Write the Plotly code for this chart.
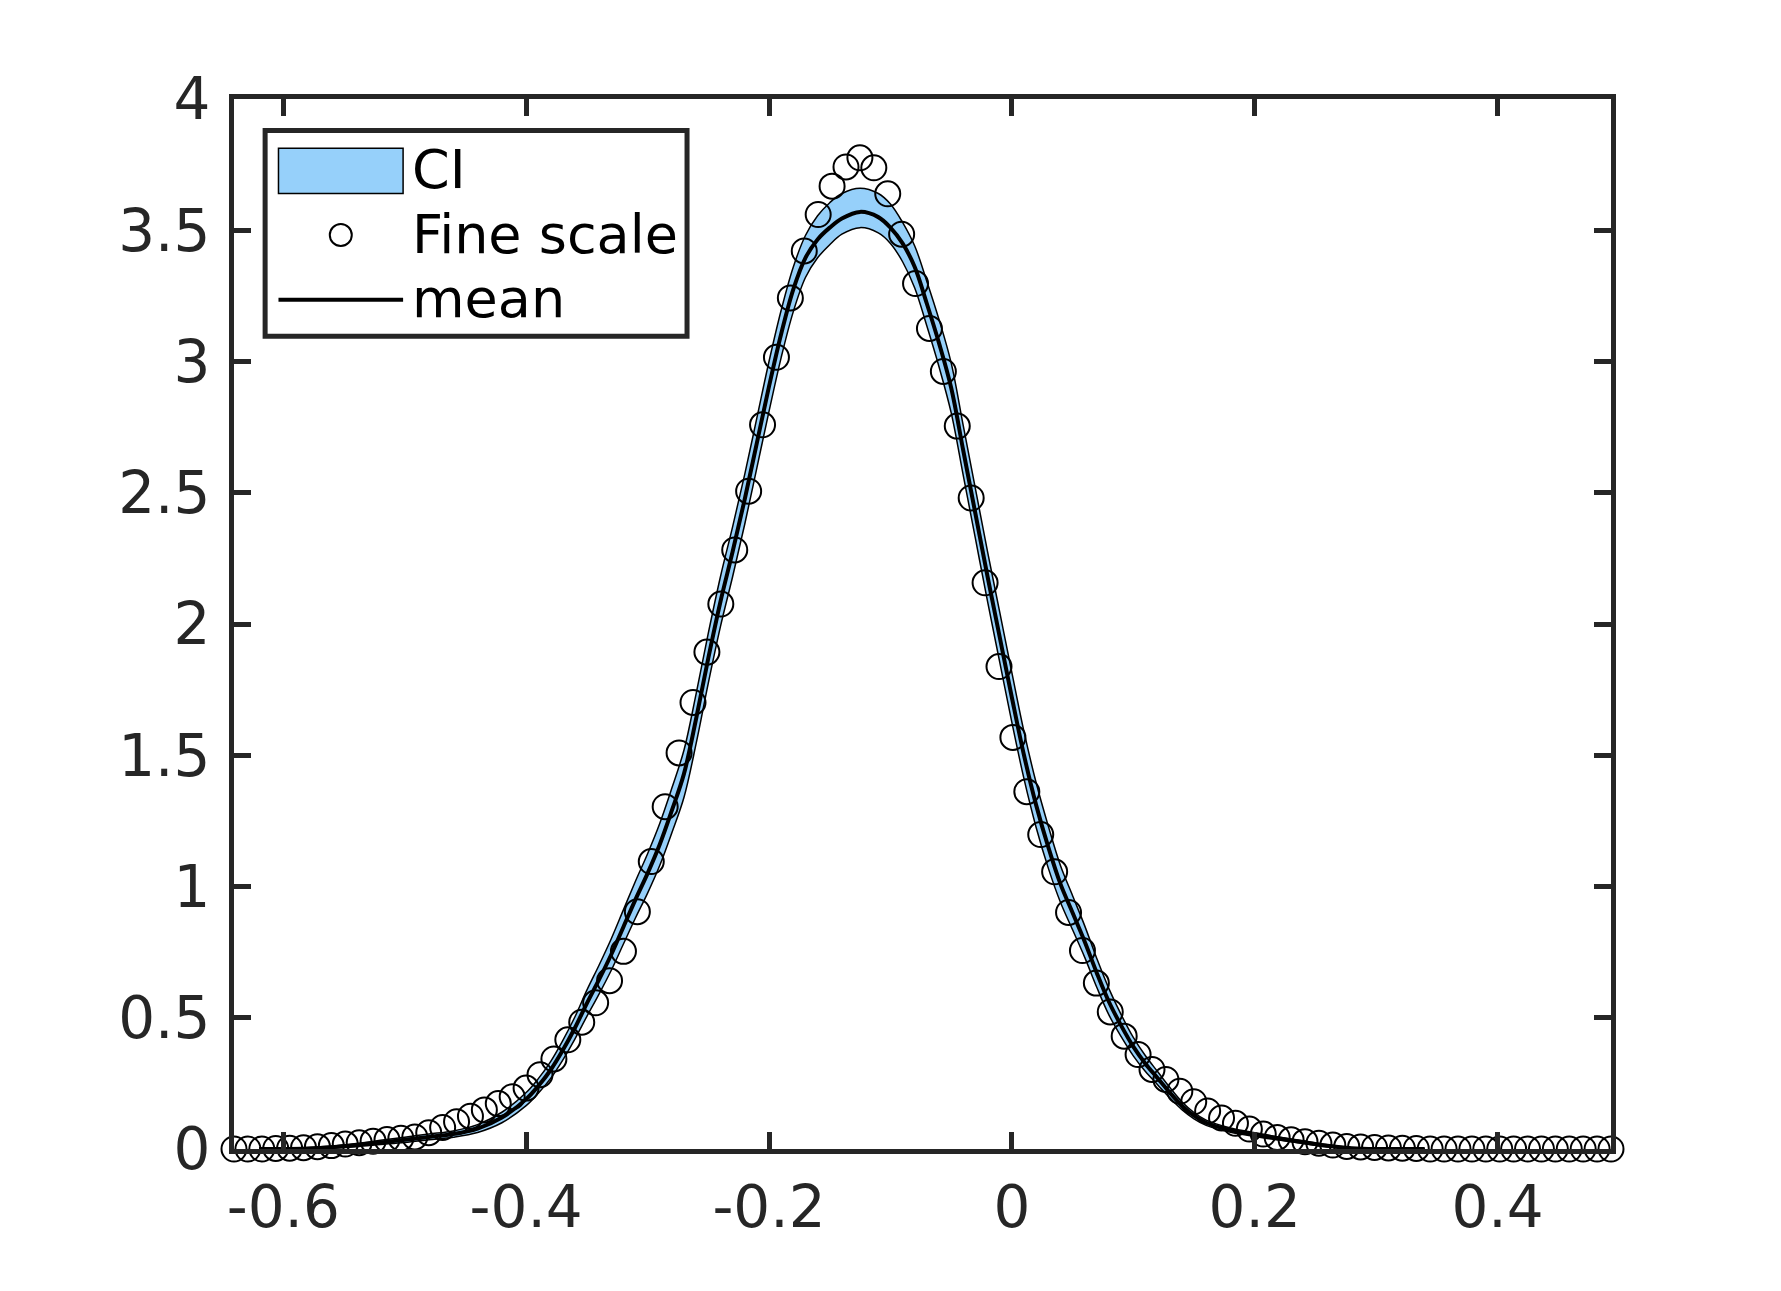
import numpy as np
import plotly.graph_objects as go

# ── data ───────────────────────────────────────────────────────────────────
# fine-scale samples: 100 evenly spaced points across the whole x-range
fine_x_min, fine_x_max, fine_n = -0.6406, 0.4934, 100
fine_y = [
    0.000, 0.000, 0.000, 0.002, 0.003, 0.005, 0.009, 0.013, 0.019, 0.024,
    0.030, 0.036, 0.041, 0.046, 0.062, 0.082, 0.104, 0.125, 0.149, 0.173,
    0.199, 0.232, 0.283, 0.343, 0.416, 0.483, 0.557, 0.641, 0.753, 0.904,
    1.095, 1.304, 1.509, 1.701, 1.893, 2.076, 2.282, 2.506, 2.759, 3.016,
    3.242, 3.421, 3.560, 3.668, 3.741, 3.776, 3.738, 3.639, 3.485, 3.297,
    3.126, 2.962, 2.754, 2.480, 2.157, 1.838, 1.568, 1.361, 1.198, 1.056,
    0.901, 0.756, 0.632, 0.522, 0.430, 0.360, 0.303, 0.265, 0.220, 0.180,
    0.145, 0.118, 0.098, 0.076, 0.057, 0.044, 0.035, 0.028, 0.022, 0.015,
    0.010, 0.008, 0.006, 0.004, 0.003, 0.002, 0.000, 0.000, 0.000, 0.000,
    0.000, 0.000, 0.000, 0.000, 0.000, 0.000, 0.000, 0.000, 0.000, 0.000,
]

# mean curve and its confidence band
mean_x = [
    -0.62, -0.60, -0.58, -0.56, -0.54, -0.52, -0.50, -0.48, -0.46, -0.44,
    -0.42, -0.40, -0.39, -0.38, -0.37, -0.36, -0.35, -0.34, -0.33, -0.32,
    -0.31, -0.30, -0.29, -0.28, -0.27, -0.26, -0.25, -0.24, -0.23, -0.22,
    -0.21, -0.20, -0.19, -0.18, -0.17, -0.16, -0.15, -0.14, -0.125, -0.11,
    -0.10, -0.09, -0.08, -0.07, -0.06, -0.05, -0.04, -0.03, -0.02, -0.01,
    0.00, 0.01, 0.02, 0.03, 0.04, 0.05, 0.06, 0.07, 0.08, 0.09,
    0.10, 0.11, 0.12, 0.13, 0.14, 0.15, 0.16, 0.18, 0.20, 0.22,
    0.24, 0.26, 0.28, 0.30, 0.34,
]
mean_y = [
    0.000, 0.000, 0.002, 0.007, 0.015, 0.025, 0.035, 0.046, 0.057, 0.078,
    0.120, 0.190, 0.240, 0.300, 0.375, 0.460, 0.555, 0.645, 0.740, 0.845,
    0.950, 1.050, 1.160, 1.290, 1.430, 1.640, 1.870, 2.085, 2.275, 2.475,
    2.690, 2.905, 3.105, 3.275, 3.395, 3.465, 3.510, 3.545, 3.570, 3.550,
    3.510, 3.450, 3.360, 3.220, 3.070, 2.900, 2.660, 2.420, 2.180, 1.950,
    1.720, 1.500, 1.310, 1.150, 1.010, 0.900, 0.790, 0.670, 0.560, 0.470,
    0.390, 0.325, 0.270, 0.215, 0.165, 0.127, 0.100, 0.072, 0.055, 0.040,
    0.026, 0.012, 0.003, 0.000, 0.000,
]
ci_lo = [
    0.000, 0.000, 0.000, 0.003, 0.009, 0.017, 0.025, 0.035, 0.045, 0.063,
    0.100, 0.165, 0.212, 0.268, 0.338, 0.418, 0.505, 0.590, 0.680, 0.780,
    0.880, 0.975, 1.080, 1.205, 1.340, 1.545, 1.775, 1.990, 2.180, 2.380,
    2.595, 2.810, 3.015, 3.190, 3.320, 3.395, 3.445, 3.485, 3.510, 3.490,
    3.450, 3.380, 3.280, 3.135, 2.980, 2.805, 2.565, 2.325, 2.085, 1.855,
    1.625, 1.410, 1.225, 1.070, 0.940, 0.835, 0.730, 0.615, 0.510, 0.428,
    0.355, 0.295, 0.245, 0.195, 0.150, 0.115, 0.090, 0.064, 0.048, 0.034,
    0.021, 0.008, 0.001, 0.000, 0.000,
]
ci_hi = [
    0.000, 0.002, 0.005, 0.011, 0.021, 0.033, 0.045, 0.057, 0.069, 0.093,
    0.140, 0.215, 0.268, 0.332, 0.412, 0.502, 0.605, 0.700, 0.800, 0.910,
    1.020, 1.125, 1.240, 1.375, 1.520, 1.735, 1.965, 2.180, 2.370, 2.570,
    2.785, 3.000, 3.195, 3.360, 3.480, 3.555, 3.605, 3.640, 3.660, 3.640,
    3.600, 3.530, 3.440, 3.305, 3.160, 2.995, 2.755, 2.515, 2.275, 2.045,
    1.815, 1.590, 1.395, 1.230, 1.080, 0.965, 0.850, 0.725, 0.610, 0.512,
    0.425, 0.355, 0.295, 0.235, 0.180, 0.139, 0.110, 0.080, 0.062, 0.046,
    0.031, 0.016, 0.005, 0.001, 0.000,
]

x_ticks = [-0.6, -0.4, -0.2, 0.0, 0.2, 0.4]
x_tick_labels = ["-0.6", "-0.4", "-0.2", "0", "0.2", "0.4"]
y_ticks = [0, 0.5, 1, 1.5, 2, 2.5, 3, 3.5, 4]
y_tick_labels = ["0", "0.5", "1", "1.5", "2", "2.5", "3", "3.5", "4"]

legend_labels = ["CI", "Fine scale", "mean"]

fine_x = np.linspace(fine_x_min, fine_x_max, fine_n)

# ── styling ────────────────────────────────────────────────────────────────
AXIS_COLOR = "#262626"
CI_COLOR = "rgb(150, 208, 250)"
FONT = "DejaVu Sans"

fig = go.Figure()

# lower edge of the band
fig.add_trace(go.Scatter(
    x=mean_x, y=ci_lo,
    mode="lines",
    line=dict(color="black", width=1.5, shape="spline"),
    hoverinfo="skip",
))
# upper edge, filled down to the lower one
fig.add_trace(go.Scatter(
    x=mean_x, y=ci_hi,
    mode="lines",
    line=dict(color="black", width=1.5, shape="spline"),
    fill="tonexty",
    fillcolor=CI_COLOR,
    name=legend_labels[0],
))
fig.add_trace(go.Scatter(
    x=fine_x, y=fine_y,
    mode="markers",
    marker=dict(symbol="circle-open", size=25, color="black",
                line=dict(width=2, color="black")),
    cliponaxis=False,   # MATLAB draws the edge markers whole
    name=legend_labels[1],
))
fig.add_trace(go.Scatter(
    x=mean_x, y=mean_y,
    mode="lines",
    line=dict(color="black", width=4, shape="spline"),
    name=legend_labels[2],
))

axis_common = dict(
    showline=True,
    linecolor=AXIS_COLOR,
    linewidth=5,
    mirror="ticks",
    ticks="inside",
    ticklen=17,
    tickwidth=5,
    tickcolor=AXIS_COLOR,
    showgrid=False,
    zeroline=False,
    tickfont=dict(family=FONT, size=58, color=AXIS_COLOR),
)

fig.update_xaxes(
    range=[fine_x_min, fine_x_max],
    tickmode="array", tickvals=x_ticks, ticktext=x_tick_labels,
    ticklabelstandoff=3,
    **axis_common,
)
fig.update_yaxes(
    range=[0, 4],
    tickmode="array", tickvals=y_ticks, ticktext=y_tick_labels,
    ticklabelstandoff=7,
    **axis_common,
)

# ── MATLAB-style legend box, drawn in axis-domain coordinates ─────────────
box = dict(x0=0.0226, x1=0.329, y0=0.7741, y1=0.9701)
sample_x0, sample_x1 = 0.0323, 0.1228
text_x = 0.1277
text_y = [0.9324, 0.8710, 0.8096]
circle_y = 0.8705
line_y = 0.8087

shapes = [
    dict(type="rect", xref="x domain", yref="y domain", layer="above",
         line=dict(color=AXIS_COLOR, width=5), fillcolor="white", **box),
    # CI patch
    dict(type="rect", xref="x domain", yref="y domain", layer="above",
         x0=sample_x0, x1=sample_x1, y0=0.910, y1=0.953,
         line=dict(color="black", width=1.5), fillcolor=CI_COLOR),
    # fine-scale marker
    dict(type="circle", xref="x domain", yref="y domain", layer="above",
         xsizemode="pixel", ysizemode="pixel",
         xanchor=(sample_x0 + sample_x1) / 2, yanchor=circle_y,
         x0=-11, x1=11, y0=-11, y1=11,
         line=dict(color="black", width=2)),
    # mean line sample
    dict(type="line", xref="x domain", yref="y domain", layer="above",
         x0=sample_x0, x1=sample_x1, y0=line_y, y1=line_y,
         line=dict(color="black", width=4)),
]

annotations = [
    dict(text=label, xref="x domain", yref="y domain",
         x=text_x, y=y, xanchor="left", yanchor="middle", showarrow=False,
         font=dict(family=FONT, size=54, color="black"))
    for label, y in zip(legend_labels, text_y)
]

fig.update_layout(
    width=1781,
    height=1291,
    margin=dict(l=226, r=178, t=91, b=150),
    paper_bgcolor="white",
    plot_bgcolor="white",
    font=dict(family=FONT, color="black"),
    showlegend=False,
    shapes=shapes,
    annotations=annotations,
)

fig.write_html("out.html")
